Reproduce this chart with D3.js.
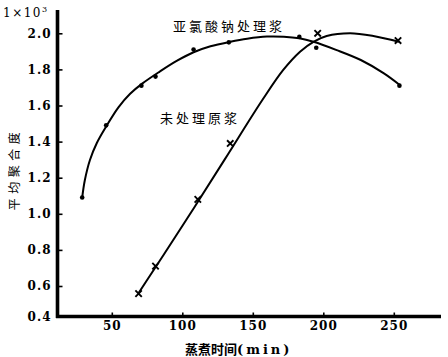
<!DOCTYPE html>
<html><head><meta charset="utf-8">
<script src="https://cdn.jsdelivr.net/npm/d3@7"></script>
<style>
html,body{margin:0;padding:0;background:#fff;}
svg{display:block;}
</style></head>
<body>
<svg id="chart" width="448" height="357"></svg>
<script>
// ---- data ----
const xTicks = [50, 100, 150, 200, 250];
const yTicks = [0.4, 0.6, 0.8, 1.0, 1.2, 1.4, 1.6, 1.8, 2.0];

// 亚氯酸钠处理浆 measured points (dots)
const treatedPoints = [[29,1.09],[46,1.49],[71,1.71],[81,1.76],[108,1.91],[133,1.95],[183,1.98],[195,1.92],[254,1.71]];
// 未处理原浆 measured points (crosses)
const rawPoints = [[69,0.55],[81,0.71],[111,1.08],[134,1.39],[196,2.0],[253,1.96]];

// fitted curves as drawn
const treatedCurve = [[29,1.09],[30.9,1.187],[34.5,1.298],[39.3,1.391],[46.5,1.49],[54.7,1.59],[63,1.665],[71.3,1.72],[84,1.788],[96,1.847],[108,1.895],[120,1.928],[134,1.953],[146,1.97],[160,1.982],[172,1.981],[183,1.972],[193,1.953],[209.5,1.907],[226.6,1.852],[243,1.778],[254,1.715]];
const rawCurve = [[69,0.554],[100,0.932],[130,1.30],[157,1.633],[171.6,1.797],[183.5,1.898],[193,1.953],[202.4,1.985],[219,2.0],[235.5,1.985],[253.7,1.953]];

const labels = {
  unit: "1×10",
  unitSup: "3",
  yTitle: "平均聚合度",
  xTitle: "蒸煮时间",
  xUnit: "(min)",
  treated: "亚氯酸钠处理浆",
  raw: "未处理原浆"
};

// ---- drawing ----
const svg = d3.select("#chart");
svg.append("rect").attr("width",448).attr("height",357).attr("fill","#fff");

const x = d3.scaleLinear().domain([50,250]).range([111.8,393.8]);
const y = d3.scaleLinear().domain([0.4,0.6,2.0]).range([316.5,286,33.3]);

const axisX0 = 57.5, axisY0 = 316.5;
const serif = "'DejaVu Serif', serif";
const cjk = "'Noto Sans CJK SC', sans-serif";

// y axis ticks & labels
const gy = svg.append("g").attr("transform",`translate(${axisX0},0)`)
  .call(d3.axisLeft(y).tickValues(yTicks).tickFormat(d3.format(".1f"))
    .tickSizeInner(-5).tickSizeOuter(0).tickPadding(6));
gy.select(".domain").remove();
gy.selectAll(".tick line").attr("stroke","#000").attr("stroke-width",1.6);
gy.selectAll(".tick text").attr("font-family",serif).attr("font-weight","bold")
  .attr("font-size",12).attr("letter-spacing",1).attr("fill","#000");
gy.selectAll(".tick").filter(d=>d===0.4).select("line").remove();

// x axis ticks & labels
const gx = svg.append("g").attr("transform",`translate(0,${axisY0})`)
  .call(d3.axisBottom(x).tickValues(xTicks).tickFormat(d3.format("d"))
    .tickSizeInner(-4).tickSizeOuter(0).tickPadding(5));
gx.select(".domain").remove();
gx.selectAll(".tick line").attr("stroke","#000").attr("stroke-width",1.6);
gx.selectAll(".tick text").attr("font-family",serif).attr("font-weight","bold")
  .attr("font-size",12).attr("letter-spacing",1).attr("fill","#000");

// axis lines
svg.append("line").attr("x1",axisX0).attr("x2",axisX0).attr("y1",10).attr("y2",axisY0+1.5)
  .attr("stroke","#000").attr("stroke-width",3.6);
svg.append("line").attr("x1",axisX0-1.5).attr("x2",441).attr("y1",axisY0).attr("y2",axisY0)
  .attr("stroke","#000").attr("stroke-width",3.4);

// curves
const line = d3.line().x(d=>x(d[0])).y(d=>y(d[1])).curve(d3.curveCatmullRom.alpha(0.5));
svg.append("path").datum(treatedCurve).attr("d",line)
  .attr("fill","none").attr("stroke","#000").attr("stroke-width",2);
svg.append("path").datum(rawCurve).attr("d",line)
  .attr("fill","none").attr("stroke","#000").attr("stroke-width",2);

// markers
svg.append("g").selectAll("circle").data(treatedPoints).join("circle")
  .attr("cx",d=>x(d[0])).attr("cy",d=>y(d[1])).attr("r",2.3).attr("fill","#000");
const s = 3.2;
svg.append("g").selectAll("path").data(rawPoints).join("path")
  .attr("d",d=>{const cx=x(d[0]),cy=y(d[1]);
    return `M${cx-s},${cy-s}L${cx+s},${cy+s}M${cx-s},${cy+s}L${cx+s},${cy-s}`;})
  .attr("stroke","#000").attr("stroke-width",1.9).attr("fill","none");

// unit label
const u = svg.append("text").attr("x",3).attr("y",17).attr("font-family",serif)
  .attr("font-size",12).attr("letter-spacing",1.5).attr("fill","#000").text(labels.unit);
u.append("tspan").attr("font-size",8).attr("dy",-5).text(labels.unitSup);

// y title
svg.append("text").attr("transform","translate(19,169) rotate(-90)")
  .attr("text-anchor","middle").attr("font-family",cjk).attr("font-size",12)
  .attr("letter-spacing",4.5).attr("fill","#000").text(labels.yTitle);

// x title
const xt = svg.append("text").attr("x",185).attr("y",354).attr("font-family",cjk)
  .attr("font-size",13).attr("font-weight","bold").attr("fill","#000");
xt.append("tspan").text(labels.xTitle);
xt.append("tspan").attr("font-family",serif).attr("letter-spacing",3).text(labels.xUnit);

// curve labels
svg.append("text").attr("x",173).attr("y",30.5).attr("font-family",cjk).attr("font-size",13)
  .attr("letter-spacing",3).attr("fill","#000").text(labels.treated);
svg.append("text").attr("x",160).attr("y",123).attr("font-family",cjk).attr("font-size",13)
  .attr("letter-spacing",3).attr("fill","#000").text(labels.raw);
</script>
</body></html>
